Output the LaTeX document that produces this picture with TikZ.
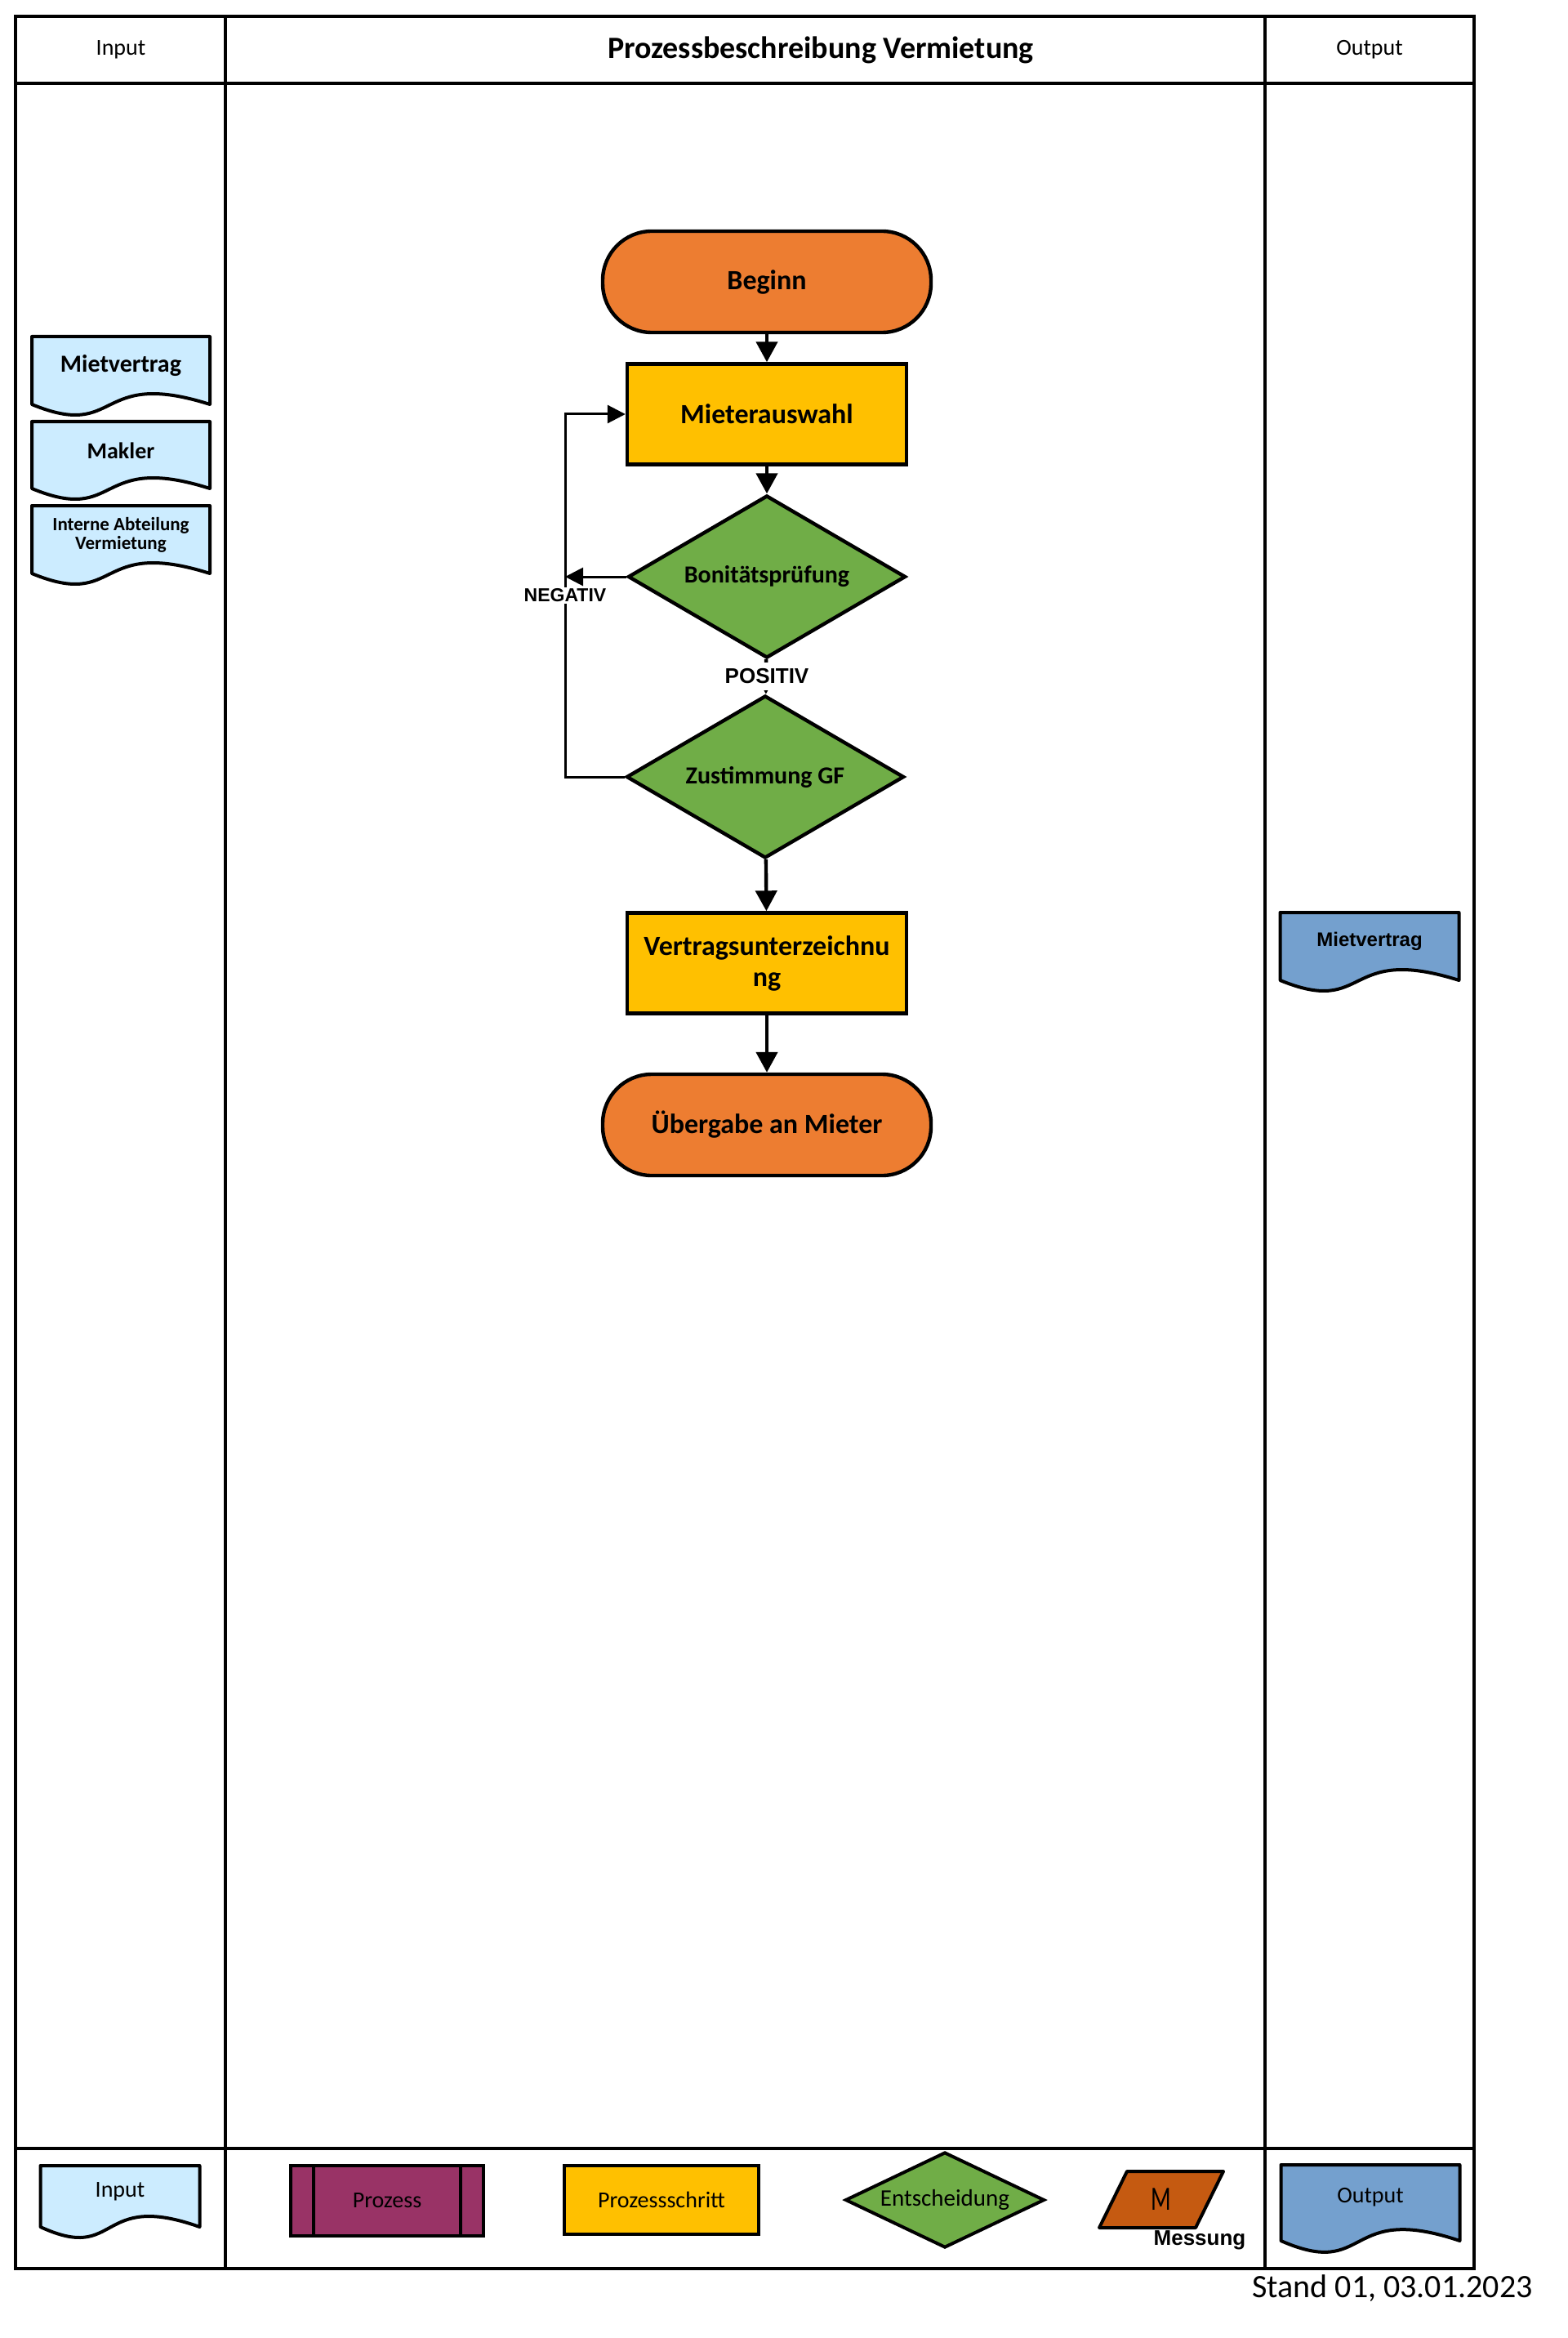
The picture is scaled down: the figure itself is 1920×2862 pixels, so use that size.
\documentclass[tikz,border=0pt]{standalone}
\usepackage{fontspec}
\setmainfont{Carlito}
\newfontfamily\arialf{Liberation Sans}
\usetikzlibrary{arrows.meta,shapes.geometric,calc,backgrounds}
\definecolor{termc}{RGB}{237,125,49}
\definecolor{stepc}{RGB}{255,192,0}
\definecolor{decc}{RGB}{112,173,71}
\definecolor{inc}{RGB}{204,236,255}
\definecolor{outc}{RGB}{116,160,206}
\definecolor{prozc}{RGB}{153,51,102}
\definecolor{messc}{RGB}{197,90,17}
% name, half width, top offset, bottom offset, wave, colour
\newcommand{\docpath}[6]{%
  \draw[docline, fill=#6] ($(#1)+(-#2,-#3)$) -- ($(#1)+(#2,-#3)$) -- ($(#1)+(#2,#4)$)
    .. controls ($(#1)+(-0.3*#2,#4-#5)$) and ($(#1)+(0,#4+#5)$) .. ($(#1)+(-#2,#4)$) -- cycle;}
\tikzset{
  frameline/.style={line width=2.3pt, line cap=rect},
  term/.style={draw, line width=2.2pt, fill=termc, rectangle, rounded corners=30pt,
    inner sep=0pt, minimum width=201pt, minimum height=62pt,
    font=\fontsize{17}{19}\selectfont\bfseries},
  stepbox/.style={draw, line width=2.2pt, fill=stepc, rectangle, inner sep=0pt,
    minimum width=171pt, minimum height=61.5pt, align=center,
    font=\fontsize{17}{19}\selectfont\bfseries},
  decide/.style={draw, line width=2.2pt, fill=decc, diamond, aspect=1.7, inner sep=0pt,
    minimum width=170pt, minimum height=99.5pt,
    font=\fontsize{15}{17}\selectfont\bfseries},
  docline/.style={line width=2pt, line join=round},
  doctext/.style={inner sep=0pt, align=center, font=\bfseries},
  arr/.style={line width=2.2pt, -{Triangle[length=12.5pt,width=13pt]}},
  looparr/.style={line width=1.5pt, -{Triangle[length=11pt,width=11pt]}},
  lbl/.style={fill=white, inner sep=1pt, font=\arialf\bfseries},
  legtext/.style={font=\fontsize{14}{16}\selectfont},
  legbox/.style={draw, line width=2pt, rectangle, inner sep=0pt, font=\fontsize{14}{16}\selectfont},
}
\begin{document}
\begin{tikzpicture}[x=0.5pt,y=-0.5pt]
\useasboundingbox (0,0) rectangle (1920,2862);
% frame
\draw[frameline] (19,20) rectangle (1805,2777);
\draw[frameline] (19,102) -- (1805,102);
\draw[frameline] (19,2630) -- (1805,2630);
\draw[frameline] (276,20) -- (276,2777);
\draw[frameline] (1549,20) -- (1549,2777);
% header
\node[legtext] (hin) at (148,61) {Input};
\node[font=\fontsize{19}{22}\selectfont\bfseries] (htitle) at (1005,61) {Prozessbeschreibung Vermietung};
\node[legtext] (hout) at (1677,61) {Output};
% main flow
\node[term] (beginn) at (939,345) {Beginn};
\node[stepbox] (mieter) at (939,507) {Mieterauswahl};
\node[decide] (bonitat) at (939,706) {Bonitätsprüfung};
\node[decide] (zust) at (937,951) {Zustimmung GF};
\node[stepbox] (vertrag) at (939,1179) {Vertragsunterzeichnu\\ng};
\node[term] (uebergabe) at (939,1377) {Übergabe an Mieter};
\coordinate (lp) at (692,706);
\draw[arr] (beginn) -- (mieter);
\draw[arr] (mieter) -- (bonitat);
\draw[arr] (bonitat) -- (zust);
\draw[arr] (zust) -- (vertrag);
\draw[arr] (vertrag) -- (uebergabe);
\draw[looparr] (bonitat.west) -- (lp);
\draw[looparr] (zust.west) -| (lp) |- (mieter.west);
\node[lbl, font=\fontsize{11.5}{13}\selectfont\arialf\bfseries] (neg) at (692,729) {NEGATIV};
\node[lbl, inner ysep=4pt, font=\fontsize{13}{15}\selectfont\arialf\bfseries] (pos) at (939,828) {POSITIV};
% input documents
\node[doctext, font=\fontsize{15}{17}\selectfont\bfseries] (in1) at (148,448) {Mietvertrag};
\node[doctext, font=\fontsize{14}{16}\selectfont\bfseries] (in2) at (148,552) {Makler};
\node[doctext, font=\fontsize{11.5}{11.8}\selectfont\bfseries] (in3) at (148,655) {Interne Abteilung\\Vermietung};
% output document
\node[doctext, font=\fontsize{12}{14}\selectfont\arialf\bfseries] (out1) at (1677,1152) {Mietvertrag};
% legend
\node[legtext] (legin) at (147,2683) {Input};
\node[legbox, fill=prozc, minimum width=118pt, minimum height=43pt] (lproz) at (474,2694) {Prozess};
\draw[line width=2pt] ($(lproz.north west)+(30,0)$) -- ($(lproz.south west)+(30,0)$);
\draw[line width=2pt] ($(lproz.north east)+(-30,0)$) -- ($(lproz.south east)+(-30,0)$);
\node[legbox, fill=stepc, minimum width=119pt, minimum height=42pt] (lstep) at (810,2693) {Prozessschritt};
\node[draw, line width=2pt, fill=decc, diamond, aspect=2, inner sep=0pt,
  minimum width=122pt, minimum height=58.5pt, font=\fontsize{14.5}{16}\selectfont] (lent) at (1157,2693) {Entscheidung};
\node[inner sep=0pt, font=\fontsize{16}{18}\selectfont] (lmess) at (1422,2692) {\scalebox{0.9}[1.3]{M}};
\node[font=\fontsize{13}{15}\selectfont\arialf\bfseries, inner sep=0pt] (lmesst) at (1469,2742) {Messung};
\node[legtext] (legout) at (1678,2690) {Output};
\node[anchor=base, inner sep=0pt, font=\fontsize{20}{24}\selectfont] (stand) at (1705,2812) {Stand 01, 03.01.2023};
% shapes behind texts
\begin{scope}[on background layer]
\docpath{in1}{109}{36}{47}{45}{inc}
\docpath{in2}{109}{36}{46}{45}{inc}
\docpath{in3}{109}{36}{47}{45}{inc}
\docpath{out1}{109.5}{35}{48}{45}{outc}
\docpath{legin}{97.5}{32}{43}{45}{inc}
\docpath{legout}{109.5}{40}{53}{48}{outc}
\draw[docline, fill=messc] ($(lmess)+(-42,-34)$) -- ($(lmess)+(76,-34)$) -- ($(lmess)+(42,35)$) -- ($(lmess)+(-76,35)$) -- cycle;
\end{scope}
\end{tikzpicture}
\end{document}
